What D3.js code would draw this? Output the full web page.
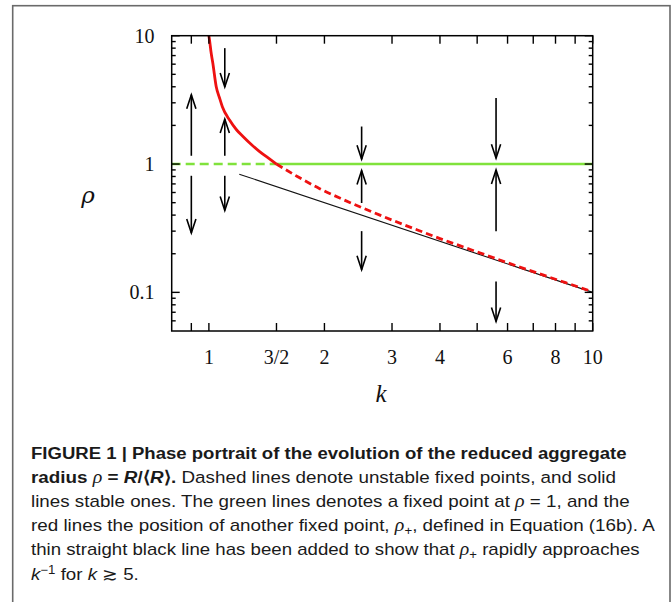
<!DOCTYPE html>
<html><head><meta charset="utf-8">
<script src="https://cdn.jsdelivr.net/npm/d3@7"></script>
<style>body{margin:0;background:#fff}svg{display:block}</style>
</head><body>
<svg id="c" width="671" height="602"></svg>
<script>
// ---- data ----
const kTicks = [0.9, 1, 1.5, 2, 3, 4, 5, 6, 7, 8, 9, 10];
const kLabelTicks = [1, 1.5, 2, 3, 4, 6, 8, 10];
const kLabels = ["1", "3/2", "2", "3", "4", "6", "8", "10"];
const rhoMajor = [0.1, 1, 10];
const rhoLabels = ["0.1", "1", "10"];
const rhoMinor = [0.06, 0.07, 0.08, 0.09, 0.2, 0.3, 0.4, 0.5, 0.6, 0.7, 0.8, 0.9, 2, 3, 4, 5, 6, 7, 8, 9];

const greenDashedK = [0.8, 1.5];
const greenSolidK = [1.5, 10];
const greenRho = 1;

const redSolidK   = [1.0, 1.006, 1.012, 1.024, 1.045, 1.065, 1.084, 1.132, 1.18, 1.227, 1.29, 1.356, 1.43, 1.5];
const redSolidRho = [10, 8.8, 7.6, 6.1, 4.0, 3.3, 2.8, 2.2, 1.85, 1.64, 1.42, 1.25, 1.11, 1.0];

const redDashedK   = [1.5, 1.7, 1.944, 2.2, 2.472, 2.8, 3.2, 3.6, 4.0, 4.8, 5.6, 7.0, 8.5, 10];
const redDashedRho = [1.0, 0.80, 0.643, 0.541, 0.465, 0.398, 0.339, 0.296, 0.2625, 0.216, 0.183, 0.145, 0.119, 0.101];

const blackK   = [1.2, 10];
const blackRho = [0.8333, 0.1];

const arrowK    = [0.9, 0.9, 1.1, 1.1, 1.1, 2.5, 2.5, 2.5, 5.6, 5.6, 5.6];
const arrowFrom = [1.16, 0.81, 8.0, 1.16, 0.81, 1.96, 0.497, 0.30, 3.27, 0.30, 0.1216];
const arrowTo   = [3.47, 0.29, 3.98, 2.24, 0.435, 1.09, 0.89, 0.15, 1.11, 0.90, 0.0593];

// ---- drawing ----
const svg = d3.select("#c");
const L = 171.7, R = 592.7, T = 35.7, B = 331;
const x = d3.scaleLog().domain([0.8, 10]).range([L, R]);
const y = d3.scaleLog().domain([0.05, 10]).range([B, T]);

// outer frame
svg.append("rect").attr("x", 12.7).attr("y", 5.7).attr("width", 657.3).attr("height", 620)
  .attr("fill", "none").attr("stroke", "#6a6a6a").attr("stroke-width", 1.6);

svg.append("clipPath").attr("id", "clip").append("rect")
  .attr("x", L).attr("y", T).attr("width", R - L).attr("height", B - T);

const plot = svg.append("g").attr("clip-path", "url(#clip)");
const line = d3.line().x(d => x(d[0])).y(d => y(d[1])).curve(d3.curveMonotoneX);
const straight = d3.line().x(d => x(d[0])).y(d => y(d[1]));

// green
plot.append("path").datum(greenDashedK.map(k => [k, greenRho])).attr("d", straight)
  .attr("fill", "none").attr("stroke", "#80e23c").attr("stroke-width", 2.6).attr("stroke-dasharray", "9,5");
plot.append("path").datum(greenSolidK.map(k => [k, greenRho])).attr("d", straight)
  .attr("fill", "none").attr("stroke", "#80e23c").attr("stroke-width", 2.6);

// black thin line
plot.append("path").datum(blackK.map((k, i) => [k, blackRho[i]])).attr("d", straight)
  .attr("fill", "none").attr("stroke", "#111").attr("stroke-width", 1.1);

// red
plot.append("path").datum(redSolidK.map((k, i) => [k, redSolidRho[i]])).attr("d", line)
  .attr("fill", "none").attr("stroke", "#ee1111").attr("stroke-width", 2.8);
plot.append("path").datum(redDashedK.map((k, i) => [k, redDashedRho[i]])).attr("d", line)
  .attr("fill", "none").attr("stroke", "#ee1111").attr("stroke-width", 2.8).attr("stroke-dasharray", "7,4");

// arrows
const ag = svg.append("g").attr("stroke", "#000").attr("stroke-width", 1.6).attr("fill", "none");
arrowK.forEach((k, i) => {
  const xx = x(k), y0 = y(arrowFrom[i]), y1 = y(arrowTo[i]);
  const dir = y1 < y0 ? 1 : -1;
  ag.append("line").attr("x1", xx).attr("x2", xx).attr("y1", y0).attr("y2", y1);
  ag.append("path").attr("d", `M${xx - 4.6},${y1 + dir * 14}L${xx},${y1}L${xx + 4.6},${y1 + dir * 14}`);
});

// axes frame
svg.append("rect").attr("x", L).attr("y", T).attr("width", R - L).attr("height", B - T)
  .attr("fill", "none").attr("stroke", "#000").attr("stroke-width", 1.5);

const tg = svg.append("g").attr("stroke", "#000").attr("stroke-width", 1.4);
kTicks.forEach(k => {
  tg.append("line").attr("x1", x(k)).attr("x2", x(k)).attr("y1", B).attr("y2", B - 8);
  tg.append("line").attr("x1", x(k)).attr("x2", x(k)).attr("y1", T).attr("y2", T + 8);
});
rhoMajor.forEach(r => {
  tg.append("line").attr("x1", L).attr("x2", L + 8).attr("y1", y(r)).attr("y2", y(r));
  tg.append("line").attr("x1", R).attr("x2", R - 8).attr("y1", y(r)).attr("y2", y(r));
});
rhoMinor.forEach(r => {
  tg.append("line").attr("x1", L).attr("x2", L + 4).attr("y1", y(r)).attr("y2", y(r));
  tg.append("line").attr("x1", R).attr("x2", R - 4).attr("y1", y(r)).attr("y2", y(r));
});

const serif = "'Liberation Serif','DejaVu Serif',serif";
kLabelTicks.forEach((k, i) => {
  svg.append("text").attr("x", x(k)).attr("y", 364).attr("text-anchor", "middle")
    .attr("font-family", serif).attr("font-size", 20).attr("fill", "#111").text(kLabels[i]);
});
rhoMajor.forEach((r, i) => {
  svg.append("text").attr("x", 154.5).attr("y", y(r) + 7).attr("text-anchor", "end")
    .attr("font-family", serif).attr("font-size", 20).attr("fill", "#111").text(rhoLabels[i]);
});
svg.append("text").attr("x", 381).attr("y", 402).attr("text-anchor", "middle")
  .attr("font-family", serif).attr("font-style", "italic").attr("font-size", 25).attr("fill", "#111").text("k");
svg.append("text").attr("x", 88).attr("y", 203).attr("text-anchor", "middle")
  .attr("font-family", "'DejaVu Serif',serif").attr("font-style", "italic").attr("font-size", 23).attr("fill", "#111").text("ρ");

// caption
const capFont = "'Liberation Sans Narrow','Liberation Sans',Arial,sans-serif";
const capLines = [
  [["FIGURE 1 | Phase portrait of the evolution of the reduced aggregate", "b"]],
  [["radius ", "b"], ["ρ", "gi"], [" = ", "b"], ["R", "bi"], ["/⟨", "b"], ["R", "bi"], ["⟩.", "b"], [" Dashed lines denote unstable fixed points, and solid", "n"]],
  [["lines stable ones. The green lines denotes a fixed point at ", "n"], ["ρ", "gi"], [" = 1, and the", "n"]],
  [["red lines the position of another fixed point, ", "n"], ["ρ", "gi"], ["+", "sub"], [", defined in Equation (16b). A", "n"]],
  [["thin straight black line has been added to show that ", "n"], ["ρ", "gi"], ["+", "sub"], [" rapidly approaches", "n"]],
  [["k", "i"], ["−1", "sup"], [" for ", "n"], ["k", "i"], [" ≳ ", "n"], ["5.", "n"]]
];
const capEnds = [627, 617, 630, 655, 640, null];
const capX = 31, capY0 = 458.5, capDy = 24.2;
const scales = [];
const capTexts = [];
capLines.forEach((segs, li) => {
  const t = svg.append("text").attr("font-family", capFont).attr("font-size", 17).attr("fill", "#1a1a1a")
    .attr("transform", `translate(${capX},${capY0 + li * capDy})`);
  segs.forEach(([s, st], j) => {
    const ts = t.append("tspan").text(s);
    if (st === "b" || st === "bi") ts.attr("font-weight", "bold");
    if (st === "bi" || st === "i") ts.attr("font-style", "italic");
    if (st === "gi") ts.attr("font-style", "italic").attr("font-family", "'Liberation Serif',serif").attr("font-size", 18);
    if (st === "sub") ts.attr("dy", 4).attr("font-size", 12);
    if (st === "sup") ts.attr("dy", -6).attr("font-size", 12);
    if (j > 0) {
      const prev = segs[j - 1][1];
      if (prev === "sub") ts.attr("dy", -4);
      if (prev === "sup") ts.attr("dy", 6);
    }
  });
  const w = t.node().getComputedTextLength();
  if (capEnds[li]) scales.push((capEnds[li] - capX) / w);
  capTexts.push([t, w]);
});
const avgS = d3.mean(scales);
capTexts.forEach(([t, w], i) => {
  const s = capEnds[i] ? (capEnds[i] - capX) / w : avgS;
  t.attr("transform", `translate(${capX},${capY0 + i * capDy}) scale(${s},1)`);
});
</script>
</body></html>
